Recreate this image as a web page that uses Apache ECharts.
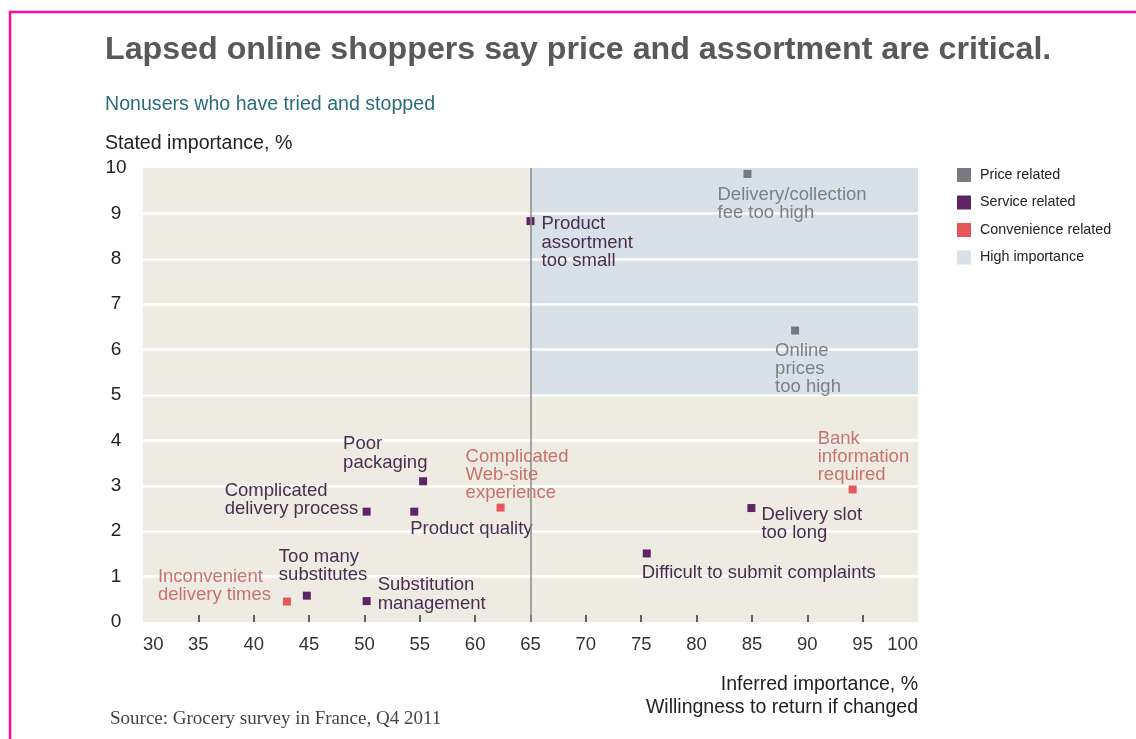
<!DOCTYPE html>
<html>
<head>
<meta charset="utf-8">
<script src="https://cdn.jsdelivr.net/npm/echarts@6/dist/echarts.min.js"></script>
<style>
html,body{margin:0;padding:0;background:#fff;}
#chart{width:1136px;height:739px;}
</style>
</head>
<body>
<div id="chart"></div>
<script>
// ---- data ----
const seriesNames = ['Price related', 'Service related', 'Convenience related', 'High importance'];

const priceNames = ['Delivery/collection\nfee too high', 'Online\nprices\ntoo high'];
const priceX = [84.6, 88.9];
const priceY = [9.87, 6.42];

const serviceNames = ['Product\nassortment\ntoo small', 'Poor\npackaging', 'Complicated\ndelivery process', 'Product quality',
  'Too many\nsubstitutes', 'Substitution\nmanagement', 'Delivery slot\ntoo long', 'Difficult to submit complaints'];
const serviceX = [65.0, 55.3, 50.2, 54.5, 44.8, 50.2, 84.95, 75.5];
const serviceY = [8.83, 3.10, 2.43, 2.43, 0.58, 0.46, 2.51, 1.51];

const convNames = ['Complicated\nWeb-site\nexperience', 'Inconvenient\ndelivery times', 'Bank\ninformation\nrequired'];
const convX = [62.3, 43.0, 94.1];
const convY = [2.52, 0.45, 2.92];

const highArea = { xFrom: 65, xTo: 100, yFrom: 5, yTo: 10 };
const dividerX = 65;

const xTickValues = [35, 40, 45, 50, 55, 60, 65, 70, 75, 80, 85, 90, 95];
const xLabelValues = [30, 35, 40, 45, 50, 55, 60, 65, 70, 75, 80, 85, 90, 95, 100];

// ---- label placement (style, offsets of text top-left from the point centre) ----
const labelOffsets = {
  'Delivery/collection\nfee too high': [-30, 12],
  'Online\nprices\ntoo high': [-20, 11],
  'Product\nassortment\ntoo small': [11, -6],
  'Poor\npackaging': [-80, -46],
  'Complicated\ndelivery process': [-142, -30],
  'Product quality': [-4, 8],
  'Too many\nsubstitutes': [-28, -48],
  'Substitution\nmanagement': [11, -25],
  'Delivery slot\ntoo long': [10, -2],
  'Difficult to submit complaints': [-5, 10],
  'Complicated\nWeb-site\nexperience': [-35, -60],
  'Inconvenient\ndelivery times': [-129, -34],
  'Bank\ninformation\nrequired': [-35, -60]
};

const SYM = 8;
const FONT = '"Liberation Sans", Arial, Helvetica, sans-serif';

function buildData(names, xs, ys, textColor) {
  return names.map((n, i) => {
    const off = labelOffsets[n] || [6, -6];
    return {
      name: n,
      value: [xs[i], ys[i]],
      label: {
        show: true,
        formatter: n,
        position: [off[0] + SYM / 2, off[1] + SYM / 2],
        align: 'left',
        verticalAlign: 'top',
        color: textColor,
        fontSize: 18.5,
        lineHeight: 18.2,
        fontFamily: FONT
      }
    };
  });
}

const chart = echarts.init(document.getElementById('chart'), null, { renderer: 'canvas' });

const option = {
  animation: false,
  backgroundColor: '#ffffff',
  textStyle: { fontFamily: FONT },
  grid: {
    left: 143, right: 218, top: 168, bottom: 117,
    show: true, backgroundColor: '#eeebe2', borderWidth: 0, z: 0
  },
  legend: {
    orient: 'vertical',
    left: 957, top: 168, padding: 0,
    itemWidth: 14, itemHeight: 14, itemGap: 13.5,
    icon: 'rect',
    data: seriesNames,
    textStyle: { fontSize: 14.3, color: '#222', padding: [0, 0, 0, 4], fontFamily: FONT },
    selectedMode: false
  },
  xAxis: {
    type: 'value', min: 30, max: 100, interval: 5, z: 1.5,
    axisLine: { show: false },
    axisTick: { show: true, inside: true, length: 7, lineStyle: { color: '#333', width: 1.5 }, customValues: xTickValues },
    axisLabel: { color: '#333', fontSize: 18.5, margin: 13, customValues: xLabelValues,
      alignMinLabel: 'left', alignMaxLabel: 'right', fontFamily: FONT },
    splitLine: { show: false }
  },
  yAxis: {
    type: 'value', min: 0, max: 10, interval: 1, z: 1.5,
    axisLine: { show: false },
    axisTick: { show: false },
    axisLabel: { color: '#222', fontSize: 19, margin: 27, align: 'center', fontFamily: FONT },
    splitLine: { show: true, showMinLine: false, showMaxLine: false, lineStyle: { color: '#ffffff', width: 2.5 } }
  },
  graphic: [
    { type: 'polyline', silent: true, z: 10,
      shape: { points: [[10, 739], [10, 12], [1136, 12]] },
      style: { stroke: '#f2109e', lineWidth: 2.5, fill: null } },
    { type: 'text', left: 105, top: 34, silent: true,
      style: { text: 'Lapsed online shoppers say price and assortment are critical.', fontSize: 32.2, fontWeight: 'bold', fill: '#58595b', fontFamily: FONT } },
    { type: 'text', left: 105, top: 95, silent: true,
      style: { text: 'Nonusers who have tried and stopped', fontSize: 19.6, fill: '#2c6c7b', fontFamily: FONT } },
    { type: 'text', left: 105, top: 134, silent: true,
      style: { text: 'Stated importance, %', fontSize: 19.6, fill: '#222', fontFamily: FONT } },
    { type: 'text', right: 218, top: 675, silent: true,
      style: { text: 'Inferred importance, %', fontSize: 19.5, fill: '#222', fontFamily: FONT, align: 'right' } },
    { type: 'text', right: 218, top: 698, silent: true,
      style: { text: 'Willingness to return if changed', fontSize: 19.5, fill: '#222', fontFamily: FONT, align: 'right' } },
    { type: 'text', left: 110, top: 710, silent: true,
      style: { text: 'Source: Grocery survey in France, Q4 2011', fontSize: 19, fill: '#444', fontFamily: '"Liberation Serif", "DejaVu Serif", serif' } }
  ],
  series: [
    {
      name: 'High importance', type: 'scatter', data: [], z: 1,
      itemStyle: { color: '#d8e1e7', opacity: 1 },
      markArea: {
        silent: true,
        itemStyle: { color: '#d8e1e7', opacity: 1 },
        label: { show: false },
        data: [[{ coord: [highArea.xFrom, highArea.yFrom] }, { coord: [highArea.xTo, highArea.yTo] }]]
      }
    },
    {
      name: 'divider', type: 'scatter', data: [], z: 2,
      markLine: {
        silent: true, symbol: ['none', 'none'], label: { show: false },
        lineStyle: { color: '#8a8a8a', width: 1.5, type: 'solid' },
        data: [{ xAxis: dividerX }]
      }
    },
    {
      name: 'Price related', type: 'scatter', z: 3, symbol: 'rect', symbolSize: SYM,
      itemStyle: { color: '#76797e', opacity: 1 },
      data: buildData(priceNames, priceX, priceY, '#7c8187')
    },
    {
      name: 'Service related', type: 'scatter', z: 3, symbol: 'rect', symbolSize: SYM,
      itemStyle: { color: '#5e2466', opacity: 1 },
      data: buildData(serviceNames, serviceX, serviceY, '#4b2d52')
    },
    {
      name: 'Convenience related', type: 'scatter', z: 3, symbol: 'rect', symbolSize: SYM,
      itemStyle: { color: '#e5575a', opacity: 1 },
      data: buildData(convNames, convX, convY, '#c8736c')
    }
  ]
};

chart.setOption(option);
</script>
</body>
</html>
